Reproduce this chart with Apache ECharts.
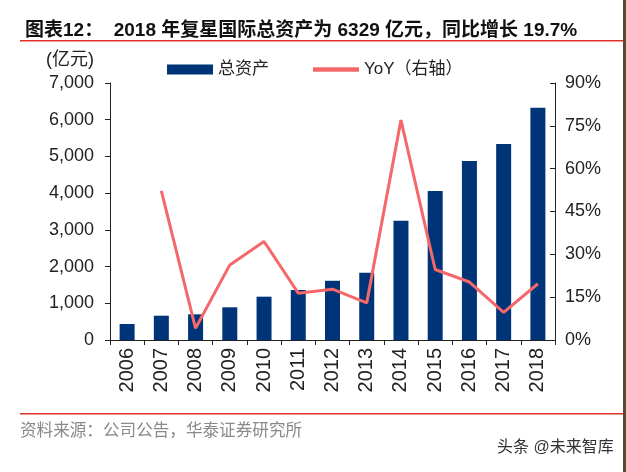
<!DOCTYPE html>
<html>
<head>
<meta charset="utf-8">
<style>html,body{margin:0;padding:0;background:#fff;}#c{width:626px;height:472px;}</style>
<script src="https://cdn.jsdelivr.net/npm/echarts@6/dist/echarts.min.js"></script>
</head>
<body>
<div id="c"></div>
<script>
var years = ['2006','2007','2008','2009','2010','2011','2012','2013','2014','2015','2016','2017','2018'];
var totalAssets = [436, 662, 700, 891, 1180, 1362, 1613, 1832, 3245, 4055, 4876, 5341, 6329];
var yoy = [null, 52.2, 4.1, 26.3, 34.5, 16.4, 17.8, 13.0, 77.0, 24.7, 20.3, 9.7, 19.7];
var leftTicks = [0, 1000, 7000, 1000];
var rightTicks = [0, 15, 90];

var FONT = '"Liberation Sans", "Noto Sans CJK SC", sans-serif';
var chart = echarts.init(document.getElementById('c'), null, {renderer: 'canvas'});
chart.setOption({
  animation: false,
  backgroundColor: '#fff',
  title: {
    text: '图表12：  2018 年复星国际总资产为 6329 亿元，同比增长 19.7%',
    left: 20, top: 16,
    textStyle: {fontSize: 19, fontWeight: 'bold', color: '#111', fontFamily: FONT}
  },
  legend: {
    top: 56, left: 162,
    itemWidth: 46, itemHeight: 10, itemGap: 44,
    textStyle: {fontSize: 17, color: '#222', fontFamily: FONT},
    data: [
      {name: '总资产', icon: 'rect'},
      {name: 'YoY（右轴）', icon: 'path://M0,0L10,0L10,1L0,1Z'}
    ]
  },
  grid: {left: 110, right: 71, top: 83, bottom: 132},
  xAxis: {
    type: 'category',
    data: years,
    axisLine: {lineStyle: {color: '#222', width: 1}},
    axisTick: {show: true, alignWithLabel: false, length: 5, lineStyle: {color: '#222'}},
    axisLabel: {rotate: 90, fontSize: 20, color: '#222', fontFamily: FONT, margin: 8}
  },
  yAxis: [
    {
      type: 'value', min: leftTicks[0], max: leftTicks[2], interval: leftTicks[1],
      position: 'left',
      axisLine: {show: true, lineStyle: {color: '#222'}},
      axisTick: {show: true, length: 5, lineStyle: {color: '#222'}},
      splitLine: {show: false},
      axisLabel: {fontSize: 18, color: '#222', fontFamily: FONT, margin: 16,
        formatter: function (v) { return v.toLocaleString('en-US'); }}
    },
    {
      type: 'value', min: rightTicks[0], max: rightTicks[2], interval: rightTicks[1],
      position: 'right',
      axisLine: {show: true, lineStyle: {color: '#222'}},
      axisTick: {show: true, inside: true, length: 5, lineStyle: {color: '#222'}},
      splitLine: {show: false},
      axisLabel: {fontSize: 18, color: '#222', fontFamily: FONT, margin: 10, formatter: '{value}%'}
    }
  ],
  series: [
    {
      name: '总资产', type: 'bar', data: totalAssets, barWidth: 15,
      itemStyle: {color: '#003478'}
    },
    {
      name: 'YoY（右轴）', type: 'line', yAxisIndex: 1, data: yoy,
      symbol: 'none', connectNulls: false,
      lineStyle: {color: '#f4676a', width: 3},
      itemStyle: {color: '#f4676a'}
    }
  ],
  graphic: [
    {type: 'rect', shape: {x: 20, y: 40, width: 606, height: 1.5}, style: {fill: '#e0322a'}},
    {type: 'rect', shape: {x: 20, y: 413, width: 606, height: 1.5}, style: {fill: '#e0322a'}},
    {type: 'text', left: 46, top: 51, style: {text: '(亿元)', fontSize: 18, fill: '#222', fontFamily: FONT}},
    {type: 'text', left: 20, top: 423, style: {text: '资料来源：公司公告，华泰证券研究所', fontSize: 16.6, fill: '#8a8a8a', fontFamily: FONT}},
    {type: 'text', left: 497, top: 440, style: {text: '头条 @未来智库', fontSize: 16, fill: '#333', fontFamily: FONT}},
    {type: 'rect', shape: {x: 623, y: 0, width: 3, height: 472}, style: {fill: '#5a4a32'}}
  ]
});
</script>
</body>
</html>
